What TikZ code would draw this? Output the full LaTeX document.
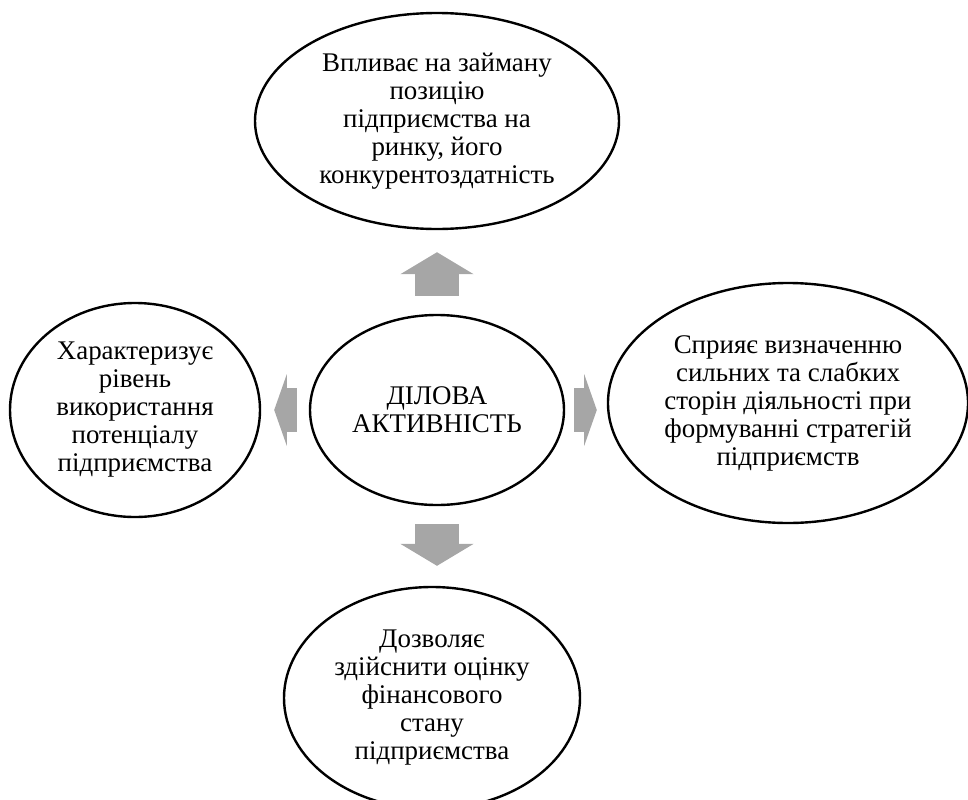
\documentclass[tikz,border=0pt]{standalone}
\usepackage{fontspec}
\setmainfont{Liberation Serif}
\usepackage{tikz}
\usetikzlibrary{shapes.geometric, arrows.meta, positioning, calc}
\definecolor{arrgray}{RGB}{166,166,166}

\begin{document}
\begin{tikzpicture}[
    x=0.75pt, y=-0.75pt,
    oval/.style={ellipse, draw=black, line width=1.8pt, inner sep=0pt, align=center, font=\fontsize{20.2pt}{21pt}\selectfont},
    varr/.style={-{Triangle[length=16.5pt, width=55pt, line width=0pt]}, line width=33pt, arrgray},
    harr/.style={-{Triangle[length=9.5pt, width=54pt, line width=0pt]}, line width=33pt, arrgray},
]
\useasboundingbox (0,0) rectangle (968,800);

\node[oval, minimum width=190.5pt, minimum height=142.5pt] (hub)       at (437,410) {ДІЛОВА\\АКТИВНІСТЬ};
\node[oval, minimum width=273pt,   minimum height=162pt]   (market)    at (437,121) {Впливає на займану\\позицію\\підприємства на\\ринку, його\\конкурентоздатність};
\node[oval, minimum width=270pt,   minimum height=180pt]   (strength)  at (788,403) {Сприяє визначенню\\сильних та слабких\\сторін діяльності при\\формуванні стратегій\\підприємств};
\node[oval, minimum width=187.5pt, minimum height=160.5pt] (potential) at (135,410) {Характеризує\\рівень\\використання\\потенціалу\\підприємства};
\node[oval, minimum width=222pt,   minimum height=166.5pt] (finance)   at (432,698) {Дозволяє\\здійснити оцінку\\фінансового\\стану\\підприємства};

\draw[varr, shorten <=13.5pt, shorten >=16.5pt] (hub.north) -- (market.south);
\draw[varr, shorten <=13.5pt, shorten >=15pt]   (hub.south) -- (hub.south |- finance.north);
\draw[harr, shorten <=9pt, shorten >=9.75pt]    (hub.west)  -- (hub.west -| potential.east);
\draw[harr, shorten <=6.75pt, shorten >=7.5pt]  (hub.east)  -- (hub.east -| strength.west);
\end{tikzpicture}
\end{document}
